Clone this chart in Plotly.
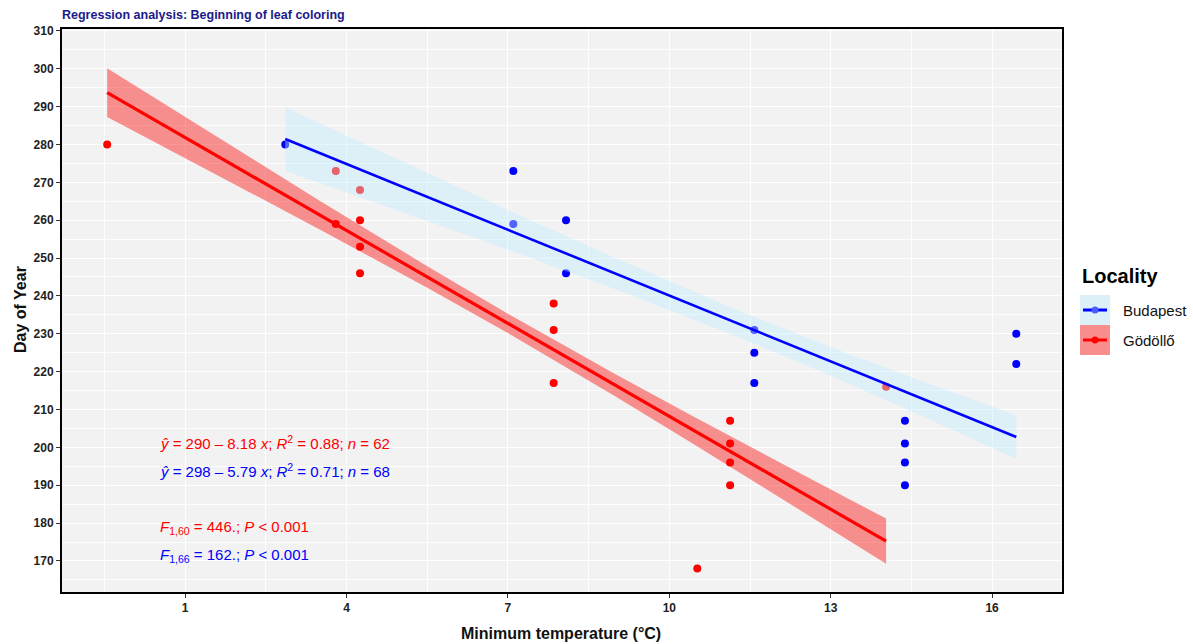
import plotly.graph_objects as go

# ---- observations -------------------------------------------------------
god_x = [-0.45, 3.8, 4.25, 4.25, 3.8, 4.25, 4.25, 7.85, 7.85, 7.85,
         11.13, 11.13, 11.13, 11.13, 10.52, 14.03]
god_y = [280, 273, 268, 260, 259, 253, 246, 238, 231, 217,
         207, 201, 196, 190, 168, 216]

bud_x = [2.86, 7.1, 7.1, 8.08, 8.08, 11.58, 11.58, 11.58,
         14.38, 14.38, 14.38, 14.38, 16.45, 16.45]
bud_y = [280, 273, 259, 260, 246, 231, 225, 217,
         207, 201, 196, 190, 230, 222]

# ---- fitted models -------------------------------------------------------
localities = ["Budapest", "Gödöllő"]
intercepts = [298, 290]
slopes = [-5.79, -8.18]
r_squared = [0.71, 0.88]
n_obs = [68, 62]
f_values = [162, 446]
df_resid = [66, 60]

# 95% confidence band half-widths along each fitted line
bud_band_x = [2.86, 5, 7, 9, 11.35, 13, 14.5, 16.45]
bud_band_half = [8.35, 6.65, 5.25, 4.1, 3.5, 3.8, 4.5, 5.75]
god_band_x = [-0.45, 1.5, 3.5, 5.5, 7.1, 9, 10.5, 12.5, 14.03]
god_band_half = [6.45, 5.1, 3.8, 2.85, 2.55, 2.95, 3.65, 4.9, 5.95]

x_ticks = [1, 4, 7, 10, 13, 16]
y_ticks = list(range(170, 311, 10))

# ---- styling ---------------------------------------------------------------
FONT = "Liberation Sans, Arial, sans-serif"
BLUE, RED = "#0000ff", "#ff0000"
BLUE_BAND, RED_BAND = "rgba(192,237,255,0.42)", "rgba(255,0,0,0.41)"
PANEL = "#f2f2f2"

W, H = 1193, 644
L, R, T, B = 62, 1062, 29, 592


def px_x(px):
    return (px - L) / (R - L)


def px_y(py):
    return (B - py) / (B - T)


fig = go.Figure()

# points first, so the confidence bands sit on top of them
fig.add_trace(go.Scatter(x=god_x, y=god_y, mode="markers",
                         marker=dict(color=RED, size=8), showlegend=False,
                         hoverinfo="x+y"))
fig.add_trace(go.Scatter(x=bud_x, y=bud_y, mode="markers",
                         marker=dict(color=BLUE, size=8), showlegend=False,
                         hoverinfo="x+y"))


def band(xs, half, a, b):
    upper = [a + b * x + h for x, h in zip(xs, half)]
    lower = [a + b * x - h for x, h in zip(xs, half)]
    return xs + xs[::-1], upper + lower[::-1]


bx, by = band(bud_band_x, bud_band_half, intercepts[0], slopes[0])
fig.add_trace(go.Scatter(x=bx, y=by, fill="toself", fillcolor=BLUE_BAND,
                         line=dict(width=0), mode="lines", showlegend=False,
                         hoverinfo="skip"))
gx, gy = band(god_band_x, god_band_half, intercepts[1], slopes[1])
fig.add_trace(go.Scatter(x=gx, y=gy, fill="toself", fillcolor=RED_BAND,
                         line=dict(width=0), mode="lines", showlegend=False,
                         hoverinfo="skip"))

# regression lines over the observed temperature range
for xs, a, b, col, w in [(bud_x, intercepts[0], slopes[0], BLUE, 2.6),
                         (god_x, intercepts[1], slopes[1], RED, 3.2)]:
    x0, x1 = min(xs), max(xs)
    fig.add_trace(go.Scatter(x=[x0, x1], y=[a + b * x0, a + b * x1],
                             mode="lines", line=dict(color=col, width=w),
                             showlegend=False))

# ---- equation annotations -------------------------------------------------
ann = []


def eq_text(i):
    return (f"<i>ŷ</i> = {intercepts[i]} – {abs(slopes[i]):.2f} <i>x</i>; "
            f"<i>R</i><sup>2</sup> = {r_squared[i]:.2f}; <i>n</i> = {n_obs[i]}")


def f_text(i):
    return (f"<i>F</i><sub>1,{df_resid[i]}</sub> = {f_values[i]}.; "
            f"<i>P</i> &lt; 0.001")


for text, py, col in [(eq_text(1), 442, RED), (eq_text(0), 470, BLUE),
                      (f_text(1), 527, RED), (f_text(0), 555, BLUE)]:
    ann.append(dict(text=text, xref="paper", yref="paper", x=px_x(158),
                    y=px_y(py), xanchor="left", yanchor="middle",
                    showarrow=False, font=dict(family=FONT, size=15, color=col)))

# title and axis titles
ann.append(dict(text="<b>Regression analysis: Beginning of leaf coloring</b>",
                xref="paper", yref="paper", x=px_x(60), y=px_y(15),
                xanchor="left", yanchor="middle", showarrow=False,
                font=dict(family=FONT, size=12.5, color="#1a1a8c")))
ann.append(dict(text="<b>Minimum temperature (°C)</b>", xref="paper",
                yref="paper", x=px_x(561), y=px_y(633), xanchor="center",
                yanchor="middle", showarrow=False,
                font=dict(family=FONT, size=16, color="#111")))
ann.append(dict(text="<b>Day of Year</b>", xref="paper", yref="paper",
                x=px_x(20), y=px_y(310), xanchor="center", yanchor="middle",
                textangle=-90, showarrow=False,
                font=dict(family=FONT, size=16, color="#111")))

# ---- legend ---------------------------------------------------------------
shapes = []
ann.append(dict(text="<b>Locality</b>", xref="paper", yref="paper",
                x=px_x(1080), y=px_y(276), xanchor="left", yanchor="middle",
                showarrow=False, font=dict(family=FONT, size=20, color="#000")))
legend_keys = [("Budapest", 310, "#dcf0f7", BLUE, "#4a5cff"),
               ("Gödöllő", 340, "#f88e8e", RED, RED)]
for name, cy, bg, col, dot in legend_keys:
    shapes.append(dict(type="rect", xref="paper", yref="paper",
                       x0=px_x(1080), x1=px_x(1110), y0=px_y(cy + 15),
                       y1=px_y(cy - 15), fillcolor=bg, line=dict(width=0),
                       layer="above"))
    shapes.append(dict(type="line", xref="paper", yref="paper",
                       x0=px_x(1083), x1=px_x(1107), y0=px_y(cy), y1=px_y(cy),
                       line=dict(color=col, width=3), layer="above"))
    shapes.append(dict(type="circle", xref="paper", yref="paper",
                       x0=px_x(1091.5), x1=px_x(1098.5), y0=px_y(cy + 3.5),
                       y1=px_y(cy - 3.5), fillcolor=dot,
                       line=dict(color=dot, width=0), layer="above"))
    ann.append(dict(text=name, xref="paper", yref="paper", x=px_x(1121),
                    y=px_y(cy), xanchor="left", yanchor="middle",
                    showarrow=False, font=dict(family=FONT, size=15, color="#111")))

axis_common = dict(
    showline=True, linecolor="#000", linewidth=2, mirror=True,
    ticks="outside", ticklen=4, tickcolor="#333", tickwidth=1,
    showgrid=True, gridcolor="#ffffff", gridwidth=1, zeroline=False,
    tickfont=dict(family=FONT, size=12, color="#222", weight="bold"),
)

fig.update_layout(
    width=W, height=H,
    margin=dict(l=L, r=W - R, t=T, b=H - B),
    paper_bgcolor="#ffffff", plot_bgcolor=PANEL,
    font=dict(family=FONT),
    xaxis=dict(range=[-1.29, 17.3], tickmode="array", tickvals=x_ticks,
               minor=dict(tick0=-0.5, dtick=3, showgrid=True,
                          gridcolor="rgba(255,255,255,0.8)", gridwidth=0.5,
                          ticks=""),
               **axis_common),
    yaxis=dict(range=[161.8, 310.5], tickmode="array", tickvals=y_ticks,
               minor=dict(tick0=165, dtick=10, showgrid=True,
                          gridcolor="rgba(255,255,255,0.8)", gridwidth=0.5,
                          ticks=""),
               **axis_common),
    annotations=ann, shapes=shapes, showlegend=False,
)

fig.write_html("out.html")
